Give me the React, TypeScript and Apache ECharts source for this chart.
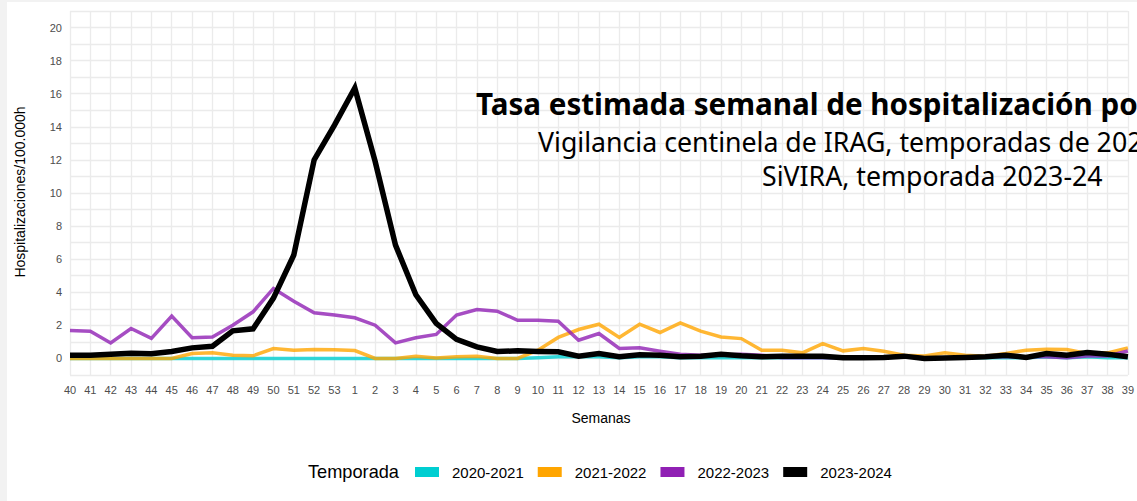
import React, { useEffect, useRef } from "react";
import * as echarts from "echarts";

const weeks: string[] = [
  "40", "41", "42", "43", "44", "45", "46", "47", "48", "49", "50", "51", "52", "53",
  "1", "2", "3", "4", "5", "6", "7", "8", "9", "10", "11", "12", "13", "14", "15", "16",
  "17", "18", "19", "20", "21", "22", "23", "24", "25", "26", "27", "28", "29", "30",
  "31", "32", "33", "34", "35", "36", "37", "38", "39",
];

const seasonNames: string[] = ["2020-2021", "2021-2022", "2022-2023", "2023-2024"];

const s2020: number[] = [
  0, 0, 0, 0, 0, 0, 0, 0, 0, 0, 0, 0, 0, 0,
  0, 0, 0, 0, 0, 0, 0, 0, 0, 0.05, 0.1, 0.1, 0.1, 0.05, 0.1, 0.1,
  0.05, 0.05, 0.05, 0.05, 0.05, 0.05, 0.05, 0.05, 0.05, 0.05, 0.05, 0.1, 0.05, 0.05,
  0.05, 0.05, 0.05, 0.05, 0.1, 0.05, 0.1, 0.05, 0.05,
];

const s2021: number[] = [
  0, 0, 0, 0, 0, 0, 0.3, 0.34, 0.2, 0.16, 0.6, 0.5, 0.54, 0.52,
  0.48, 0, 0, 0.14, 0.03, 0.1, 0.14, 0, 0, 0.5, 1.27, 1.75, 2.07, 1.27, 2.07, 1.57,
  2.15, 1.65, 1.3, 1.2, 0.5, 0.5, 0.34, 0.9, 0.46, 0.6, 0.44, 0.2, 0.15, 0.34,
  0.2, 0.14, 0.3, 0.5, 0.56, 0.54, 0.3, 0.34, 0.64,
];

const s2022: number[] = [
  1.69, 1.65, 0.94, 1.81, 1.21, 2.56, 1.25, 1.3, 2.01, 2.82, 4.23, 3.46, 2.76, 2.62,
  2.46, 2.01, 0.94, 1.25, 1.45, 2.62, 2.96, 2.86, 2.31, 2.31, 2.25, 1.1, 1.51, 0.6, 0.64, 0.44,
  0.26, 0.2, 0.2, 0.25, 0.2, 0.05, 0.05, 0.05, 0.05, 0.05, 0.1, 0.1, 0.05, 0.05,
  0.05, 0.1, 0.1, 0.1, 0.1, 0.05, 0.15, 0.15, 0.45,
];

const s2023: number[] = [
  0.2, 0.2, 0.26, 0.32, 0.28, 0.42, 0.64, 0.74, 1.67, 1.79, 3.65, 6.25, 12.0, 14.1,
  16.35, 11.9, 6.85, 3.85, 2.12, 1.15, 0.7, 0.42, 0.46, 0.42, 0.4, 0.14, 0.3, 0.1, 0.22, 0.2,
  0.1, 0.14, 0.26, 0.16, 0.1, 0.14, 0.14, 0.14, 0.04, 0.04, 0.06, 0.14, 0, 0.02,
  0.06, 0.1, 0.2, 0.06, 0.3, 0.2, 0.36, 0.26, 0.1,
];

const seasonColors: string[] = ["#00CED1", "#FFA500", "#9020B4", "#000000"];

const titleText = "Tasa estimada semanal de hospitalización por gripe";
const subtitleText = "Vigilancia centinela de IRAG, temporadas de 2020-21 a 2022-23";
const subtitle2Text = "SiVIRA, temporada 2023-24";

export default function App() {
  const ref = useRef<HTMLDivElement>(null);

  useEffect(() => {
    if (!ref.current) return;
    const chart = echarts.init(ref.current, undefined, { renderer: "svg" });
    const allData = [s2020, s2021, s2022, s2023];
    const series = seasonNames.map((name, i) => ({
      name,
      type: "line" as const,
      data: allData[i],
      symbol: "none",
      showSymbol: false,
      z: 2 + i,
      itemStyle: { color: seasonColors[i], opacity: 1 },
      lineStyle: {
        color: seasonColors[i],
        width: i === 3 ? 5.5 : 3.5,
        opacity: i === 3 ? 1 : 0.8,
        join: "miter",
      },
      emphasis: { disabled: true },
    }));

    chart.setOption({
      animation: false,
      backgroundColor: "#ffffff",
      grid: { left: 63, right: 5, top: 9, bottom: 126, containLabel: false },
      xAxis: {
        type: "category",
        data: weeks,
        boundaryGap: false,
        axisLine: { show: false },
        axisTick: { show: false },
        axisLabel: {
          interval: 0,
          color: "#4d4d4d",
          fontSize: 11,
          fontFamily: "Liberation Sans, Arial, sans-serif",
          margin: 9,
        },
        splitLine: { show: true, interval: 0, lineStyle: { color: "#ebebeb", width: 1.3 } },
      },
      yAxis: {
        type: "value",
        min: -1,
        max: 21,
        interval: 1,
        axisLine: { show: false },
        axisTick: { show: false },
        axisLabel: {
          color: "#4d4d4d",
          fontSize: 11,
          fontFamily: "Liberation Sans, Arial, sans-serif",
          margin: 8,
          formatter: (v: number) => (v >= 0 && v % 2 === 0 ? String(v) : ""),
        },
        splitLine: { show: true, lineStyle: { color: "#ebebeb", width: 1.3 } },
      },
      legend: {
        data: seasonNames,
        left: 408,
        top: 462.5,
        padding: 0,
        icon: "rect",
        itemWidth: 24,
        itemHeight: 10,
        itemGap: 14,
        selectedMode: false,
        itemStyle: { borderWidth: 0, opacity: 1 },
        lineStyle: { width: 0 },
        textStyle: {
          fontSize: 15,
          color: "#000",
          fontFamily: "Liberation Sans, Arial, sans-serif",
          padding: [0, 0, 0, 8],
        },
      },
      graphic: [
        {
          type: "text",
          left: 469,
          top: 86,
          style: {
            text: titleText,
            fontSize: 29.6,
            fontWeight: "bold",
            fontFamily: "Noto Sans",
            fill: "#000",
          },
          z: 10,
        },
        {
          type: "text",
          left: 531,
          top: 126,
          style: {
            text: subtitleText,
            fontSize: 26.7,
            fontFamily: "Noto Sans",
            fill: "#000",
          },
          z: 10,
        },
        {
          type: "text",
          left: 755,
          top: 160,
          style: {
            text: subtitle2Text,
            fontSize: 26.7,
            fontFamily: "Noto Sans",
            fill: "#000",
          },
          z: 10,
        },
        {
          type: "text",
          x: 301,
          y: 470,
          style: {
            text: "Temporada",
            fontSize: 18.2,
            fontFamily: "Liberation Sans, Arial, sans-serif",
            fill: "#000",
            verticalAlign: "middle",
            align: "left",
          },
        },
        {
          type: "text",
          x: 594,
          y: 416,
          style: {
            text: "Semanas",
            fontSize: 14,
            fontFamily: "Liberation Sans, Arial, sans-serif",
            fill: "#000",
            verticalAlign: "middle",
            align: "center",
          },
        },
        {
          type: "text",
          x: 13,
          y: 190,
          rotation: Math.PI / 2,
          style: {
            text: "Hospitalizaciones/100.000h",
            fontSize: 14,
            fontFamily: "Liberation Sans, Arial, sans-serif",
            fill: "#000",
            verticalAlign: "middle",
            align: "center",
          },
        },
      ],
      series,
    });
    return () => chart.dispose();
  }, []);

  return (
    <div
      style={{
        position: "fixed",
        left: 0,
        top: 0,
        width: 1137,
        height: 501,
        background: "#f2f2f2",
        overflow: "hidden",
      }}
    >
      <div
        ref={ref}
        style={{ position: "absolute", left: 7, top: 2, width: 1130, height: 499, background: "#fff" }}
      />
    </div>
  );
}
